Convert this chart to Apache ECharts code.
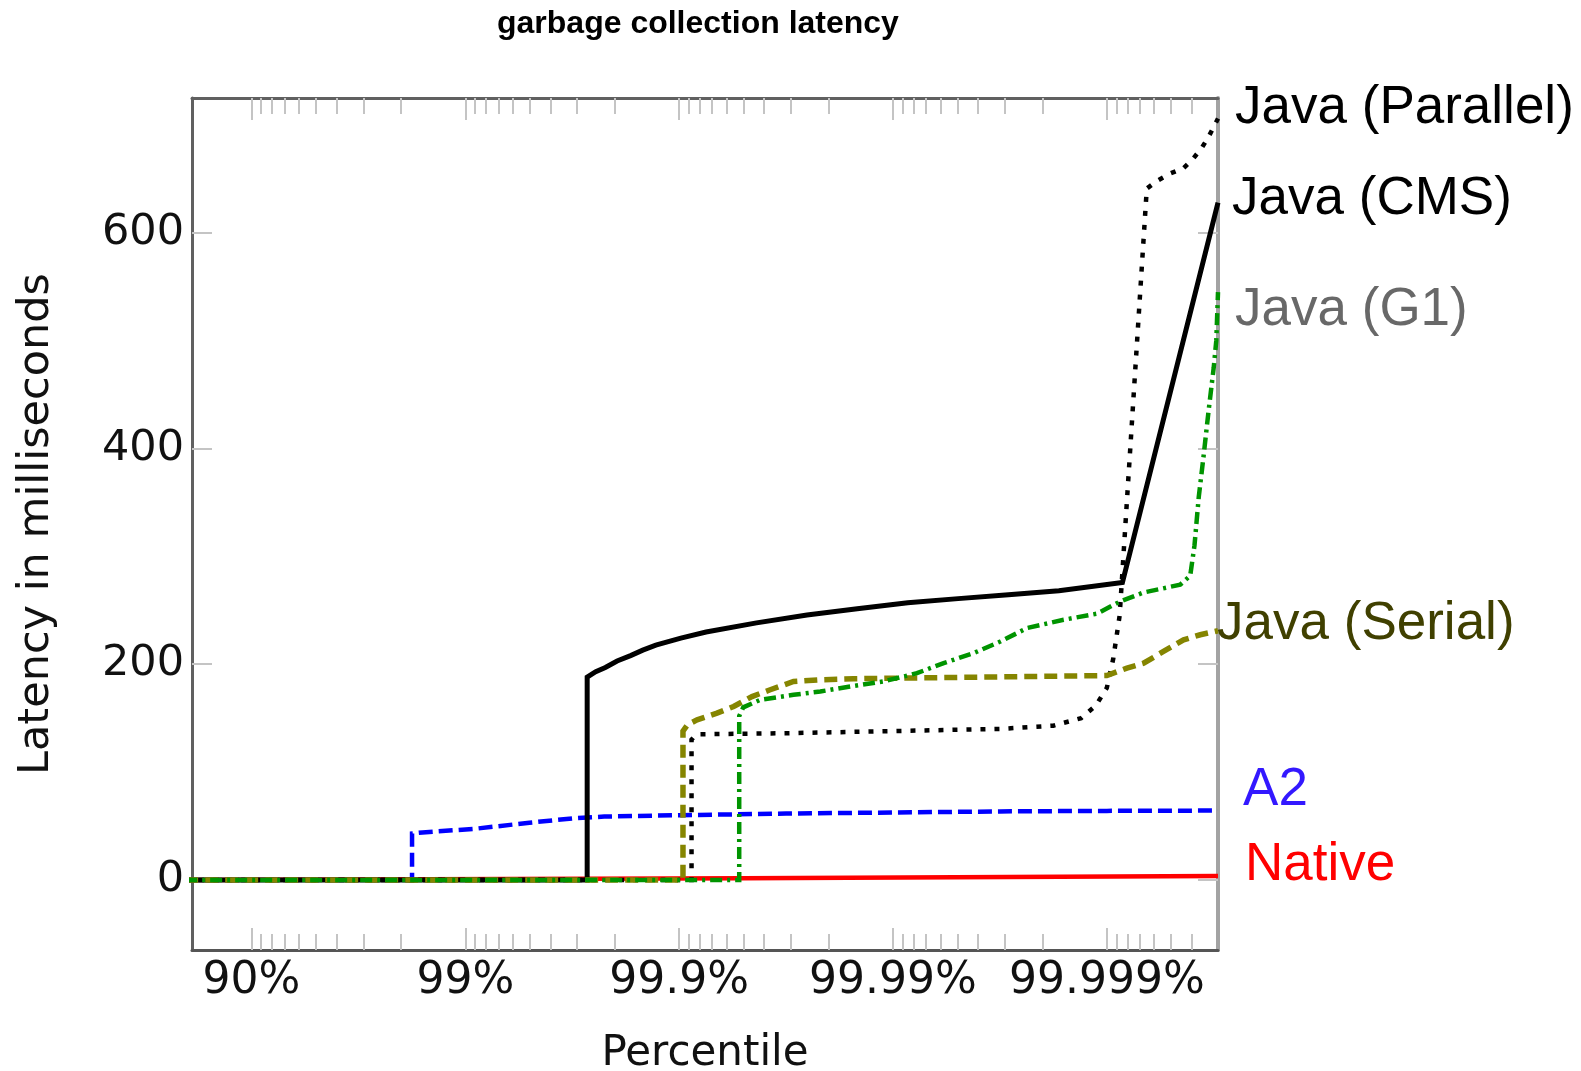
<!DOCTYPE html>
<html>
<head>
<meta charset="utf-8">
<title>garbage collection latency</title>
<script src="https://cdn.jsdelivr.net/npm/echarts@6/dist/echarts.min.js"></script>
<style>
  html, body { margin: 0; padding: 0; background: #fff; }
  #chart { width: 1581px; height: 1071px; }
</style>
</head>
<body>
<div id="chart"></div>
<script>
// x is counted in "nines": 1 = 90%, 2 = 99%, 3 = 99.9% ...
const tickNines = [1, 2, 3, 4, 5]
const tickLabels = ['90%', '99%', '99.9%', '99.99%', '99.999%']
const minorSteps = [1, 2, 3, 4, 5, 6, 7, 8] // 91%..98% style ticks in each decade
const yTicks = [0, 200, 400, 600]

const nativeData = [[0.69, 0], [3.3, 1.5], [5.52, 3.5]]
const a2Data = [[0.69, 0], [1.751, 0], [1.751, 43], [1.80, 44], [2.05, 47.5], [2.30, 53], [2.50, 57],
  [2.65, 58.7], [3.00, 60], [3.50, 61.5], [4.00, 62.5], [4.50, 63.5], [5.00, 64], [5.52, 64.3]]
const g1Data = [[0.69, 0], [3.281, 0], [3.281, 152], [3.30, 160], [3.38, 167], [3.535, 171.6], [3.66, 174.7],
  [3.80, 179.3], [3.956, 184], [4.112, 191.7], [4.237, 201], [4.377, 210.3], [4.502, 221], [4.627, 233.5],
  [4.798, 241.2], [4.953, 246.8], [5.063, 258.2], [5.172, 266.5], [5.343, 273.7], [5.39, 282], [5.41, 310],
  [5.43, 355], [5.452, 392], [5.476, 435], [5.50, 475], [5.512, 500], [5.52, 545]]
const serialData = [[0.69, 0], [3.018, 0], [3.018, 138], [3.04, 144], [3.084, 148.4], [3.177, 154.6],
  [3.255, 160.8], [3.341, 170], [3.426, 176.3], [3.535, 184], [3.65, 185.5], [3.816, 186.5], [4.2, 187.5],
  [4.6, 188.5], [5.0, 189.5], [5.094, 196.4], [5.172, 201], [5.265, 211.8], [5.359, 222.6], [5.437, 227.3],
  [5.52, 231]]
const parallelData = [[0.69, 0], [3.058, 0], [3.058, 130], [3.08, 135], [3.5, 136], [4.0, 138], [4.5, 140],
  [4.75, 143], [4.88, 150], [4.95, 162], [5.0, 178], [5.03, 205], [5.06, 245], [5.187, 641], [5.234, 648],
  [5.296, 655], [5.359, 660], [5.405, 669], [5.445, 679], [5.476, 689], [5.52, 706]]
const cmsData = [[0.69, 0], [2.570, 0], [2.570, 188], [2.61, 193], [2.655, 197], [2.71, 203], [2.773, 208],
  [2.83, 213], [2.891, 217.7], [3.008, 224.2], [3.126, 229.9], [3.362, 238.3], [3.598, 245.7], [3.833, 251.4],
  [4.069, 257], [4.305, 260.8], [4.540, 264.5], [4.776, 268.2], [5.073, 275.7], [5.52, 628]]

const X_MIN = 0.722
const X_MAX = 5.52

// minor tick positions, e.g. 91%..98% between 90% and 99%
let minorTicks = []
for (let n = 0; n <= 5; n++) {
  minorSteps.forEach(k => {
    let d = n + 1 - Math.log10(10 - k)
    if (d > X_MIN && d < X_MAX) minorTicks.push(d)
  })
}

const tickColor = '#c4c4c4'
const numFont = 'DejaVu Sans'

function xAxisFor (position, ticks, len, line) {
  return {
    type: 'value',
    position: position,
    min: X_MIN,
    max: X_MAX,
    splitLine: { show: false },
    axisLine: line ? { show: true, onZero: false, lineStyle: line } : { show: false, onZero: false },
    axisLabel: { show: false },
    axisTick: {
      show: true,
      inside: true,
      length: len,
      customValues: ticks,
      lineStyle: { color: tickColor, width: 2 }
    }
  }
}

let xMain = xAxisFor('bottom', tickNines, 22, { color: '#555555', width: 3 })
xMain.axisLabel = {
  show: true,
  customValues: tickNines,
  formatter: v => {
    let i = tickNines.indexOf(v)
    return i >= 0 ? tickLabels[i] : ''
  },
  color: '#111',
  fontFamily: numFont,
  fontSize: 44,
  margin: 10
}
xMain.name = 'Percentile'
xMain.nameLocation = 'middle'
xMain.nameGap = 83
xMain.nameTextStyle = { color: '#111', fontFamily: numFont, fontSize: 42 }

// the name label sits next to the last point of each line
function lineSeries (name, data, color, width, type, labelColor, off, z) {
  return {
    name: name,
    type: 'line',
    data: data,
    symbol: 'none',
    z: z,
    lineStyle: { color: color, width: width, type: type, cap: 'butt', join: 'miter' },
    markPoint: {
      silent: true,
      symbol: 'circle',
      symbolSize: 0.1,
      itemStyle: { color: 'rgba(0,0,0,0)' },
      data: [{ coord: data[data.length - 1] }],
      label: {
        show: true,
        position: 'right',
        distance: 0,
        offset: off,
        formatter: name,
        color: labelColor,
        fontFamily: 'Liberation Sans',
        fontSize: 53
      }
    }
  }
}

let myChart = echarts.init(document.getElementById('chart'), null, { renderer: 'canvas' })
myChart.setOption({
  animation: false,
  backgroundColor: '#ffffff',
  title: {
    text: 'garbage collection latency',
    left: 497,
    top: 8,
    padding: 0,
    textStyle: { color: '#000', fontFamily: 'Liberation Sans', fontWeight: 'bold', fontSize: 32 }
  },
  grid: { left: 192, right: 363, top: 98, bottom: 121, containLabel: false, outerBoundsMode: 'none' },
  xAxis: [
    xMain,
    xAxisFor('bottom', minorTicks, 16, null),
    xAxisFor('top', tickNines, 22, { color: '#606060', width: 3 }),
    xAxisFor('top', minorTicks, 16, null)
  ],
  yAxis: [
    {
      type: 'value',
      position: 'left',
      min: -65,
      max: 725,
      splitLine: { show: false },
      axisLine: { show: true, onZero: false, lineStyle: { color: '#606060', width: 3 } },
      axisTick: { show: true, inside: true, length: 20, customValues: yTicks, lineStyle: { color: tickColor, width: 2 } },
      axisLabel: { customValues: yTicks, color: '#111', fontFamily: numFont, fontSize: 43, margin: 8 },
      name: 'Latency in milliseconds',
      nameLocation: 'middle',
      nameGap: 134,
      nameTextStyle: { color: '#111', fontFamily: numFont, fontSize: 43 }
    },
    {
      type: 'value',
      position: 'right',
      min: -65,
      max: 725,
      splitLine: { show: false },
      axisLine: { show: true, onZero: false, lineStyle: { color: '#a3a3a3', width: 4 } },
      axisTick: { show: true, inside: true, length: 20, customValues: yTicks, lineStyle: { color: tickColor, width: 2 } },
      axisLabel: { show: false }
    }
  ],
  series: [
    lineSeries('Native', nativeData, '#ff0000', 4.5, 'solid', '#ff0000', [27, -11], 2),
    lineSeries('A2', a2Data, '#0000ff', 4.5, [14, 6], '#3318ff', [25, -20], 3),
    lineSeries('Java (CMS)', cmsData, '#000000', 5, 'solid', '#000000', [14, -3], 4),
    lineSeries('Java (Parallel)', parallelData, '#000000', 4.5, [5, 9], '#000000', [17, -10], 5),
    lineSeries('Java (Serial)', serialData, '#858500', 5.5, [13, 7], '#404000', [-1, -6], 6),
    lineSeries('Java (G1)', g1Data, '#009400', 4.5, [12, 5, 3, 5], '#686868', [17, 18], 7)
  ]
})
</script>
</body>
</html>
